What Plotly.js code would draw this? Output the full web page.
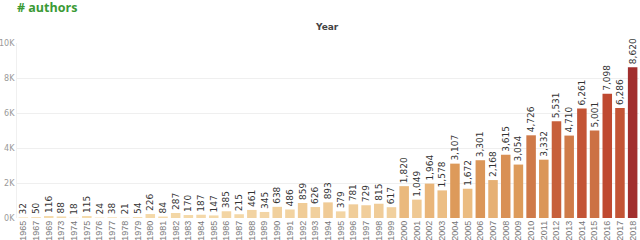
<!DOCTYPE html>
<html>
<head>
<meta charset="utf-8">
<script src="https://cdn.plot.ly/plotly-3.0.1.min.js"></script>
<style>html,body{margin:0;padding:0;background:#fff;}#chart{width:640px;height:240px;}</style>
</head>
<body>
<div id="chart"></div>
<script>
var years = ["1965","1967","1969","1973","1974","1975","1976","1977","1978","1979","1980","1981","1982","1983","1984","1985","1986","1987","1988","1989","1990","1991","1992","1993","1994","1995","1996","1997","1998","1999","2000","2001","2002","2003","2004","2005","2006","2007","2008","2009","2010","2011","2012","2013","2014","2015","2016","2017","2018"];
var authors = [32,50,116,88,18,115,24,38,21,54,226,84,287,170,187,147,385,215,461,345,638,486,859,626,893,379,781,729,815,617,1820,1049,1964,1578,3107,1672,3301,2168,3615,3054,4726,3332,5531,4710,6261,5001,7098,6286,8620];
var yTickVals = [0,2000,4000,6000,8000,10000];
var yTickText = ["0K","2K","4K","6K","8K","10K"];

var labels = authors.map(function(v){ return v.toLocaleString('en-US'); });

var trace = {
  type: 'bar',
  x: years,
  y: authors,
  text: labels,
  textposition: 'outside',
  textangle: -90,
  constraintext: 'none',
  cliponaxis: false,
  textfont: {family: 'DejaVu Sans, sans-serif', size: 9, color: '#333'},
  marker: {
    color: authors,
    cmin: 0,
    cmax: 8620,
    colorscale: [[0,'#f5dcae'],[0.2,'#ebbb80'],[0.36,'#dd9a5a'],[0.55,'#cf7a49'],[0.65,'#c65c3a'],[0.82,'#c04a30'],[1,'#a12f2e']],
    line: {width: 0}
  },
  hoverinfo: 'x+y'
};

var layout = {
  width: 640, height: 240,
  margin: {l: 17, r: 1, t: 43, b: 22},
  paper_bgcolor: '#fff', plot_bgcolor: '#fff',
  bargap: 0.25,
  showlegend: false,
  title: {text: '# authors', x: 0, xanchor: 'left', xref: 'paper', y: 1 - 8/240, yanchor: 'middle', yref: 'container',
          font: {family: 'Open Sans, sans-serif', size: 12.5, color: '#3a9a35', weight: 'bold'}, pad: {l: 0}},
  xaxis: {
    type: 'category',
    tickangle: -90,
    tickfont: {family: 'Liberation Sans, Arial, sans-serif', size: 9, color: '#777'},
    ticklabelstandoff: 0,
    showgrid: false, zeroline: false, showline: false, ticks: '',
    automargin: false
  },
  yaxis: {
    range: [0, 10000],
    tickvals: yTickVals,
    ticktext: yTickText,
    tickfont: {family: 'DejaVu Sans, sans-serif', size: 8, color: '#999'},
    showgrid: true, gridcolor: '#efefef', gridwidth: 1,
    zeroline: false, showline: true, linecolor: '#f0f0f0', ticks: '',
    automargin: false, fixedrange: true
  },
  annotations: [{
    text: '<b>Year</b>', xref: 'paper', yref: 'paper', x: 0.498, y: 1.0, yshift: 16,
    showarrow: false, xanchor: 'center', yanchor: 'middle',
    font: {family: 'DejaVu Sans, sans-serif', size: 9, color: '#444'}
  }]
};

Plotly.newPlot('chart', [trace], layout, {displayModeBar: false, staticPlot: true});
</script>
</body>
</html>
